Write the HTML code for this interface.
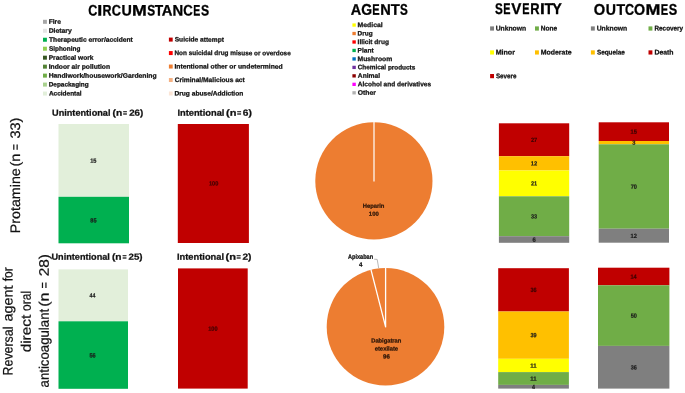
<!DOCTYPE html>
<html><head><meta charset="utf-8"><title>Figure</title>
<style>
html,body{margin:0;padding:0;background:#fff;}
svg{display:block;font-family:"Liberation Sans",sans-serif;text-rendering:geometricPrecision;will-change:transform;}
</style></head>
<body>
<svg width="685" height="393" viewBox="0 0 685 393">
<rect x="0" y="0" width="685" height="393" fill="#ffffff"/>
<text transform="translate(88.29,15.4) rotate(0.05)" font-size="15.2" font-weight="bold" fill="#000" stroke="#000" stroke-width="0.3" textLength="9.06" lengthAdjust="spacingAndGlyphs">C</text>
<text transform="translate(97.29,15.4) rotate(0.05)" font-size="15.2" font-weight="bold" fill="#000" stroke="#000" stroke-width="0.3" textLength="5.01" lengthAdjust="spacingAndGlyphs">I</text>
<text transform="translate(102.57,15.4) rotate(0.05)" font-size="15.2" font-weight="bold" fill="#000" stroke="#000" stroke-width="0.3" textLength="8.99" lengthAdjust="spacingAndGlyphs">R</text>
<text transform="translate(111.78,15.4) rotate(0.05)" font-size="15.2" font-weight="bold" fill="#000" stroke="#000" stroke-width="0.3" textLength="9.17" lengthAdjust="spacingAndGlyphs">C</text>
<text transform="translate(121.54,15.4) rotate(0.05)" font-size="15.2" font-weight="bold" fill="#000" stroke="#000" stroke-width="0.3" textLength="10.33" lengthAdjust="spacingAndGlyphs">U</text>
<text transform="translate(132.11,15.4) rotate(0.05)" font-size="15.2" font-weight="bold" fill="#000" stroke="#000" stroke-width="0.3" textLength="14.77" lengthAdjust="spacingAndGlyphs">M</text>
<text transform="translate(147.16,15.4) rotate(0.05)" font-size="15.2" font-weight="bold" fill="#000" stroke="#000" stroke-width="0.3" textLength="7.9" lengthAdjust="spacingAndGlyphs">S</text>
<text transform="translate(154.85,15.4) rotate(0.05)" font-size="15.2" font-weight="bold" fill="#000" stroke="#000" stroke-width="0.3" textLength="8.4" lengthAdjust="spacingAndGlyphs">T</text>
<text transform="translate(161.63,15.4) rotate(0.05)" font-size="15.2" font-weight="bold" fill="#000" stroke="#000" stroke-width="0.3" textLength="10.66" lengthAdjust="spacingAndGlyphs">A</text>
<text transform="translate(172.41,15.4) rotate(0.05)" font-size="15.2" font-weight="bold" fill="#000" stroke="#000" stroke-width="0.3" textLength="10.69" lengthAdjust="spacingAndGlyphs">N</text>
<text transform="translate(183.16,15.4) rotate(0.05)" font-size="15.2" font-weight="bold" fill="#000" stroke="#000" stroke-width="0.3" textLength="9.5" lengthAdjust="spacingAndGlyphs">C</text>
<text transform="translate(193.3,15.4) rotate(0.05)" font-size="15.2" font-weight="bold" fill="#000" stroke="#000" stroke-width="0.3" textLength="7.01" lengthAdjust="spacingAndGlyphs">E</text>
<text transform="translate(200.95,15.4) rotate(0.05)" font-size="15.2" font-weight="bold" fill="#000" stroke="#000" stroke-width="0.3" textLength="8.13" lengthAdjust="spacingAndGlyphs">S</text>
<text transform="translate(350.74,14.7) rotate(0.05)" font-size="15.4" font-weight="bold" fill="#000" stroke="#000" stroke-width="0.3" textLength="10.44" lengthAdjust="spacingAndGlyphs">A</text>
<text transform="translate(361.33,14.7) rotate(0.05)" font-size="15.4" font-weight="bold" fill="#000" stroke="#000" stroke-width="0.3" textLength="10.84" lengthAdjust="spacingAndGlyphs">G</text>
<text transform="translate(372.26,14.7) rotate(0.05)" font-size="15.4" font-weight="bold" fill="#000" stroke="#000" stroke-width="0.3" textLength="7.37" lengthAdjust="spacingAndGlyphs">E</text>
<text transform="translate(380.32,14.7) rotate(0.05)" font-size="15.4" font-weight="bold" fill="#000" stroke="#000" stroke-width="0.3" textLength="10.56" lengthAdjust="spacingAndGlyphs">N</text>
<text transform="translate(390.63,14.7) rotate(0.05)" font-size="15.4" font-weight="bold" fill="#000" stroke="#000" stroke-width="0.3" textLength="9.02" lengthAdjust="spacingAndGlyphs">T</text>
<text transform="translate(400.06,14.7) rotate(0.05)" font-size="15.4" font-weight="bold" fill="#000" stroke="#000" stroke-width="0.3" textLength="7.79" lengthAdjust="spacingAndGlyphs">S</text>
<text transform="translate(494.96,13.9) rotate(0.05)" font-size="15.5" font-weight="bold" fill="#000" stroke="#000" stroke-width="0.3" textLength="7.79" lengthAdjust="spacingAndGlyphs">S</text>
<text transform="translate(503.27,13.9) rotate(0.05)" font-size="15.5" font-weight="bold" fill="#000" stroke="#000" stroke-width="0.3" textLength="7.25" lengthAdjust="spacingAndGlyphs">E</text>
<text transform="translate(511.2,13.9) rotate(0.05)" font-size="15.5" font-weight="bold" fill="#000" stroke="#000" stroke-width="0.3" textLength="10.11" lengthAdjust="spacingAndGlyphs">V</text>
<text transform="translate(522.27,13.9) rotate(0.05)" font-size="15.5" font-weight="bold" fill="#000" stroke="#000" stroke-width="0.3" textLength="7.25" lengthAdjust="spacingAndGlyphs">E</text>
<text transform="translate(530.24,13.9) rotate(0.05)" font-size="15.5" font-weight="bold" fill="#000" stroke="#000" stroke-width="0.3" textLength="9.33" lengthAdjust="spacingAndGlyphs">R</text>
<text transform="translate(539.94,13.9) rotate(0.05)" font-size="15.5" font-weight="bold" fill="#000" stroke="#000" stroke-width="0.3" textLength="4.82" lengthAdjust="spacingAndGlyphs">I</text>
<text transform="translate(544.44,13.9) rotate(0.05)" font-size="15.5" font-weight="bold" fill="#000" stroke="#000" stroke-width="0.3" textLength="8.71" lengthAdjust="spacingAndGlyphs">T</text>
<text transform="translate(552.15,13.9) rotate(0.05)" font-size="15.5" font-weight="bold" fill="#000" stroke="#000" stroke-width="0.3" textLength="9.58" lengthAdjust="spacingAndGlyphs">Y</text>
<text transform="translate(593.8,14.7) rotate(0.05)" font-size="15.4" font-weight="bold" fill="#000" stroke="#000" stroke-width="0.3" textLength="11.42" lengthAdjust="spacingAndGlyphs">O</text>
<text transform="translate(605.75,14.7) rotate(0.05)" font-size="15.4" font-weight="bold" fill="#000" stroke="#000" stroke-width="0.3" textLength="10.21" lengthAdjust="spacingAndGlyphs">U</text>
<text transform="translate(616.44,14.7) rotate(0.05)" font-size="15.4" font-weight="bold" fill="#000" stroke="#000" stroke-width="0.3" textLength="8.61" lengthAdjust="spacingAndGlyphs">T</text>
<text transform="translate(624.99,14.7) rotate(0.05)" font-size="15.4" font-weight="bold" fill="#000" stroke="#000" stroke-width="0.3" textLength="9.06" lengthAdjust="spacingAndGlyphs">C</text>
<text transform="translate(634.02,14.7) rotate(0.05)" font-size="15.4" font-weight="bold" fill="#000" stroke="#000" stroke-width="0.3" textLength="11.08" lengthAdjust="spacingAndGlyphs">O</text>
<text transform="translate(645.5,14.7) rotate(0.05)" font-size="15.4" font-weight="bold" fill="#000" stroke="#000" stroke-width="0.3" textLength="14.89" lengthAdjust="spacingAndGlyphs">M</text>
<text transform="translate(660.86,14.7) rotate(0.05)" font-size="15.4" font-weight="bold" fill="#000" stroke="#000" stroke-width="0.3" textLength="7.37" lengthAdjust="spacingAndGlyphs">E</text>
<text transform="translate(668.83,14.7) rotate(0.05)" font-size="15.4" font-weight="bold" fill="#000" stroke="#000" stroke-width="0.3" textLength="8.46" lengthAdjust="spacingAndGlyphs">S</text>
<rect x="43.0" y="19.8" width="3.9" height="4.0" fill="#A6A6A6"/>
<text transform="translate(48.65,23.8) rotate(0.05)" font-size="6.5" font-weight="bold" fill="#111" stroke="#111" stroke-width="0.25" textLength="12.28" lengthAdjust="spacingAndGlyphs">Fire</text>
<rect x="43.0" y="28.77" width="3.9" height="4.0" fill="#E4E4E4"/>
<text transform="translate(48.64,32.77) rotate(0.05)" font-size="6.5" font-weight="bold" fill="#111" stroke="#111" stroke-width="0.25" textLength="23.19" lengthAdjust="spacingAndGlyphs">Dietary</text>
<rect x="43.0" y="37.74" width="3.9" height="4.0" fill="#00B050"/>
<text transform="translate(49.03,41.74) rotate(0.05)" font-size="6.5" font-weight="bold" fill="#111" stroke="#111" stroke-width="0.25" textLength="83.66" lengthAdjust="spacingAndGlyphs">Therapeutic error/accident</text>
<rect x="43.0" y="46.71" width="3.9" height="4.0" fill="#92D050"/>
<text transform="translate(48.91,50.71) rotate(0.05)" font-size="6.5" font-weight="bold" fill="#111" stroke="#111" stroke-width="0.25" textLength="31.42" lengthAdjust="spacingAndGlyphs">Siphoning</text>
<rect x="43.0" y="55.68" width="3.9" height="4.0" fill="#375623"/>
<text transform="translate(48.66,59.68) rotate(0.05)" font-size="6.5" font-weight="bold" fill="#111" stroke="#111" stroke-width="0.25" textLength="44.73" lengthAdjust="spacingAndGlyphs">Practical work</text>
<rect x="43.0" y="64.65" width="3.9" height="4.0" fill="#548235"/>
<text transform="translate(48.65,68.65) rotate(0.05)" font-size="6.5" font-weight="bold" fill="#111" stroke="#111" stroke-width="0.25" textLength="61.47" lengthAdjust="spacingAndGlyphs">Indoor air pollution</text>
<rect x="43.0" y="73.62" width="3.9" height="4.0" fill="#70AD47"/>
<text transform="translate(48.65,77.62) rotate(0.05)" font-size="6.5" font-weight="bold" fill="#111" stroke="#111" stroke-width="0.25" textLength="107.91" lengthAdjust="spacingAndGlyphs">Handiwork/housework/Gardening</text>
<rect x="43.0" y="82.59" width="3.9" height="4.0" fill="#A9D18E"/>
<text transform="translate(48.67,86.59) rotate(0.05)" font-size="6.5" font-weight="bold" fill="#111" stroke="#111" stroke-width="0.25" textLength="40.06" lengthAdjust="spacingAndGlyphs">Depackaging</text>
<rect x="43.0" y="91.56" width="3.9" height="4.0" fill="#E2EFDA"/>
<text transform="translate(48.94,95.56) rotate(0.05)" font-size="6.5" font-weight="bold" fill="#111" stroke="#111" stroke-width="0.25" textLength="32.72" lengthAdjust="spacingAndGlyphs">Accidental</text>
<rect x="168.9" y="37.6" width="3.8" height="4.0" fill="#C00000"/>
<text transform="translate(174.71,41.6) rotate(0.05)" font-size="6.5" font-weight="bold" fill="#111" stroke="#111" stroke-width="0.25" textLength="49.17" lengthAdjust="spacingAndGlyphs">Suicide attempt</text>
<rect x="168.9" y="51.07" width="3.8" height="4.0" fill="#FF0000"/>
<text transform="translate(174.47,55.07) rotate(0.05)" font-size="6.5" font-weight="bold" fill="#111" stroke="#111" stroke-width="0.25" textLength="116.25" lengthAdjust="spacingAndGlyphs">Non suicidal drug misuse or overdose</text>
<rect x="168.9" y="64.54" width="3.8" height="4.0" fill="#ED7D31"/>
<text transform="translate(174.45,68.54) rotate(0.05)" font-size="6.5" font-weight="bold" fill="#111" stroke="#111" stroke-width="0.25" textLength="108.3" lengthAdjust="spacingAndGlyphs">Intentional other or undetermined</text>
<rect x="168.9" y="78.01" width="3.8" height="4.0" fill="#F4B183"/>
<text transform="translate(174.63,82.01) rotate(0.05)" font-size="6.5" font-weight="bold" fill="#111" stroke="#111" stroke-width="0.25" textLength="70.15" lengthAdjust="spacingAndGlyphs">Criminal/Malicious act</text>
<rect x="168.9" y="91.48" width="3.8" height="4.0" fill="#FBE5D6"/>
<text transform="translate(174.46,95.48) rotate(0.05)" font-size="6.5" font-weight="bold" fill="#111" stroke="#111" stroke-width="0.25" textLength="68.85" lengthAdjust="spacingAndGlyphs">Drug abuse/Addiction</text>
<rect x="352.4" y="23.4" width="3.4" height="3.3" fill="#FFFF00"/>
<text transform="translate(357.54,27.0) rotate(0.05)" font-size="6.5" font-weight="bold" fill="#111" stroke="#111" stroke-width="0.25" textLength="25.14" lengthAdjust="spacingAndGlyphs">Medical</text>
<rect x="352.4" y="31.87" width="3.4" height="3.3" fill="#ED7D31"/>
<text transform="translate(357.57,35.47) rotate(0.05)" font-size="6.5" font-weight="bold" fill="#111" stroke="#111" stroke-width="0.25" textLength="15.06" lengthAdjust="spacingAndGlyphs">Drug</text>
<rect x="352.4" y="40.34" width="3.4" height="3.3" fill="#FF0000"/>
<text transform="translate(357.56,43.94) rotate(0.05)" font-size="6.5" font-weight="bold" fill="#111" stroke="#111" stroke-width="0.25" textLength="31.38" lengthAdjust="spacingAndGlyphs">Illicit drug</text>
<rect x="352.4" y="48.81" width="3.4" height="3.3" fill="#00B050"/>
<text transform="translate(357.56,52.41) rotate(0.05)" font-size="6.5" font-weight="bold" fill="#111" stroke="#111" stroke-width="0.25" textLength="16.02" lengthAdjust="spacingAndGlyphs">Plant</text>
<rect x="352.4" y="57.28" width="3.4" height="3.3" fill="#0070C0"/>
<text transform="translate(357.55,60.88) rotate(0.05)" font-size="6.5" font-weight="bold" fill="#111" stroke="#111" stroke-width="0.25" textLength="34.67" lengthAdjust="spacingAndGlyphs">Mushroom</text>
<rect x="352.4" y="65.75" width="3.4" height="3.3" fill="#7030A0"/>
<text transform="translate(357.74,69.35) rotate(0.05)" font-size="6.5" font-weight="bold" fill="#111" stroke="#111" stroke-width="0.25" textLength="57.52" lengthAdjust="spacingAndGlyphs">Chemical products</text>
<rect x="352.4" y="74.22" width="3.4" height="3.3" fill="#8B0000"/>
<text transform="translate(357.83,77.82) rotate(0.05)" font-size="6.5" font-weight="bold" fill="#111" stroke="#111" stroke-width="0.25" textLength="22.24" lengthAdjust="spacingAndGlyphs">Animal</text>
<rect x="352.4" y="82.69" width="3.4" height="3.3" fill="#FF00FF"/>
<text transform="translate(357.84,86.29) rotate(0.05)" font-size="6.5" font-weight="bold" fill="#111" stroke="#111" stroke-width="0.25" textLength="73.23" lengthAdjust="spacingAndGlyphs">Alcohol and derivatives</text>
<rect x="352.4" y="91.16" width="3.4" height="3.3" fill="#B2B2B2"/>
<text transform="translate(357.72,94.76) rotate(0.05)" font-size="6.5" font-weight="bold" fill="#111" stroke="#111" stroke-width="0.25" textLength="18.18" lengthAdjust="spacingAndGlyphs">Other</text>
<rect x="490.1" y="26.4" width="3.9" height="4.2" fill="#7F7F7F"/>
<text transform="translate(495.69,30.6) rotate(0.05)" font-size="6.8" font-weight="bold" fill="#111" stroke="#111" stroke-width="0.25" textLength="30.43" lengthAdjust="spacingAndGlyphs">Unknown</text>
<rect x="535.0" y="26.4" width="3.9" height="4.2" fill="#70AD47"/>
<text transform="translate(540.76,30.6) rotate(0.05)" font-size="6.8" font-weight="bold" fill="#111" stroke="#111" stroke-width="0.25" textLength="16.36" lengthAdjust="spacingAndGlyphs">None</text>
<rect x="490.1" y="50.35" width="3.9" height="4.2" fill="#FFFF00"/>
<text transform="translate(495.63,54.55) rotate(0.05)" font-size="6.8" font-weight="bold" fill="#111" stroke="#111" stroke-width="0.25" textLength="19.28" lengthAdjust="spacingAndGlyphs">Minor</text>
<rect x="535.0" y="50.35" width="3.9" height="4.2" fill="#FFC000"/>
<text transform="translate(540.74,54.55) rotate(0.05)" font-size="6.8" font-weight="bold" fill="#111" stroke="#111" stroke-width="0.25" textLength="30.8" lengthAdjust="spacingAndGlyphs">Moderate</text>
<rect x="490.1" y="74.0" width="3.9" height="4.2" fill="#C00000"/>
<text transform="translate(495.92,78.2) rotate(0.05)" font-size="6.8" font-weight="bold" fill="#111" stroke="#111" stroke-width="0.25" textLength="20.49" lengthAdjust="spacingAndGlyphs">Severe</text>
<rect x="590.9" y="26.4" width="3.9" height="4.2" fill="#7F7F7F"/>
<text transform="translate(596.69,30.6) rotate(0.05)" font-size="6.8" font-weight="bold" fill="#111" stroke="#111" stroke-width="0.25" textLength="30.53" lengthAdjust="spacingAndGlyphs">Unknown</text>
<rect x="648.5" y="26.4" width="3.9" height="4.2" fill="#70AD47"/>
<text transform="translate(654.47,30.6) rotate(0.05)" font-size="6.8" font-weight="bold" fill="#111" stroke="#111" stroke-width="0.25" textLength="28.66" lengthAdjust="spacingAndGlyphs">Recovery</text>
<rect x="590.9" y="50.35" width="3.9" height="4.2" fill="#FFC000"/>
<text transform="translate(596.92,54.55) rotate(0.05)" font-size="6.8" font-weight="bold" fill="#111" stroke="#111" stroke-width="0.25" textLength="28.0" lengthAdjust="spacingAndGlyphs">Sequelae</text>
<rect x="648.5" y="50.35" width="3.9" height="4.2" fill="#C00000"/>
<text transform="translate(654.44,54.55) rotate(0.05)" font-size="6.8" font-weight="bold" fill="#111" stroke="#111" stroke-width="0.25" textLength="19.09" lengthAdjust="spacingAndGlyphs">Death</text>
<text transform="translate(52.05,115.7) rotate(0.05)" font-size="8.9" font-weight="bold" fill="#111" stroke="#111" stroke-width="0.25" textLength="58.4" lengthAdjust="spacingAndGlyphs">Unintentional</text>
<text transform="translate(112.49,115.7) rotate(0.05)" font-size="8.9" font-weight="bold" fill="#111" stroke="#111" stroke-width="0.25" textLength="9.64" lengthAdjust="spacingAndGlyphs">(n</text>
<text transform="translate(123.11,115.7) rotate(0.05)" font-size="8.9" font-weight="bold" fill="#111" stroke="#111" stroke-width="0.25" textLength="4.08" lengthAdjust="spacingAndGlyphs">=</text>
<text transform="translate(129.16,115.7) rotate(0.05)" font-size="8.9" font-weight="bold" fill="#111" stroke="#111" stroke-width="0.25" textLength="14.02" lengthAdjust="spacingAndGlyphs">26)</text>
<text transform="translate(177.38,115.7) rotate(0.05)" font-size="8.9" font-weight="bold" fill="#111" stroke="#111" stroke-width="0.25" textLength="47.08" lengthAdjust="spacingAndGlyphs">Intentional</text>
<text transform="translate(225.95,115.7) rotate(0.05)" font-size="8.9" font-weight="bold" fill="#111" stroke="#111" stroke-width="0.25" textLength="10.44" lengthAdjust="spacingAndGlyphs">(n</text>
<text transform="translate(236.89,115.7) rotate(0.05)" font-size="8.9" font-weight="bold" fill="#111" stroke="#111" stroke-width="0.25" textLength="4.31" lengthAdjust="spacingAndGlyphs">=</text>
<text transform="translate(242.83,115.7) rotate(0.05)" font-size="8.9" font-weight="bold" fill="#111" stroke="#111" stroke-width="0.25" textLength="9.08" lengthAdjust="spacingAndGlyphs">6)</text>
<text transform="translate(51.45,259.7) rotate(0.05)" font-size="8.9" font-weight="bold" fill="#111" stroke="#111" stroke-width="0.25" textLength="58.4" lengthAdjust="spacingAndGlyphs">Unintentional</text>
<text transform="translate(111.89,259.7) rotate(0.05)" font-size="8.9" font-weight="bold" fill="#111" stroke="#111" stroke-width="0.25" textLength="9.64" lengthAdjust="spacingAndGlyphs">(n</text>
<text transform="translate(122.51,259.7) rotate(0.05)" font-size="8.9" font-weight="bold" fill="#111" stroke="#111" stroke-width="0.25" textLength="4.08" lengthAdjust="spacingAndGlyphs">=</text>
<text transform="translate(128.56,259.7) rotate(0.05)" font-size="8.9" font-weight="bold" fill="#111" stroke="#111" stroke-width="0.25" textLength="14.02" lengthAdjust="spacingAndGlyphs">25)</text>
<text transform="translate(176.98,259.7) rotate(0.05)" font-size="8.9" font-weight="bold" fill="#111" stroke="#111" stroke-width="0.25" textLength="47.08" lengthAdjust="spacingAndGlyphs">Intentional</text>
<text transform="translate(225.55,259.7) rotate(0.05)" font-size="8.9" font-weight="bold" fill="#111" stroke="#111" stroke-width="0.25" textLength="10.44" lengthAdjust="spacingAndGlyphs">(n</text>
<text transform="translate(236.49,259.7) rotate(0.05)" font-size="8.9" font-weight="bold" fill="#111" stroke="#111" stroke-width="0.25" textLength="4.31" lengthAdjust="spacingAndGlyphs">=</text>
<text transform="translate(242.45,259.7) rotate(0.05)" font-size="8.9" font-weight="bold" fill="#111" stroke="#111" stroke-width="0.25" textLength="9.06" lengthAdjust="spacingAndGlyphs">2)</text>
<g transform="translate(20.0,232.0) rotate(-90)">
<text transform="translate(-1.17,0) rotate(0.05)" font-size="13.8" font-weight="normal" fill="#111" stroke="#111" stroke-width="0.22" textLength="64.9" lengthAdjust="spacingAndGlyphs">Protamine</text>
<text transform="translate(65.4,0) rotate(0.05)" font-size="13.8" font-weight="normal" fill="#111" stroke="#111" stroke-width="0.22" textLength="12.95" lengthAdjust="spacingAndGlyphs">(n</text>
<text transform="translate(81.78,0) rotate(0.05)" font-size="13.8" font-weight="normal" fill="#111" stroke="#111" stroke-width="0.22" textLength="6.25" lengthAdjust="spacingAndGlyphs">=</text>
<text transform="translate(93.45,0) rotate(0.05)" font-size="13.8" font-weight="normal" fill="#111" stroke="#111" stroke-width="0.22" textLength="20.95" lengthAdjust="spacingAndGlyphs">33)</text>
</g>
<g transform="translate(12.6,374.4) rotate(-90)">
<text transform="translate(-1.02,0) rotate(0.05)" font-size="13.8" font-weight="normal" fill="#111" stroke="#111" stroke-width="0.22" textLength="48.84" lengthAdjust="spacingAndGlyphs">Reversal</text>
<text transform="translate(52.79,0) rotate(0.05)" font-size="13.8" font-weight="normal" fill="#111" stroke="#111" stroke-width="0.22" textLength="36.02" lengthAdjust="spacingAndGlyphs">agent</text>
<text transform="translate(93.13,0) rotate(0.05)" font-size="13.8" font-weight="normal" fill="#111" stroke="#111" stroke-width="0.22" textLength="14.07" lengthAdjust="spacingAndGlyphs">for</text>
</g>
<g transform="translate(30.8,351.7) rotate(-90)">
<text transform="translate(-0.64,0) rotate(0.05)" font-size="13.8" font-weight="normal" fill="#111" stroke="#111" stroke-width="0.22" textLength="37.56" lengthAdjust="spacingAndGlyphs">direct</text>
<text transform="translate(40.8,0) rotate(0.05)" font-size="13.8" font-weight="normal" fill="#111" stroke="#111" stroke-width="0.22" textLength="20.01" lengthAdjust="spacingAndGlyphs">oral</text>
</g>
<g transform="translate(48.7,386.9) rotate(-90)">
<text transform="translate(-0.56,0) rotate(0.05)" font-size="13.8" font-weight="normal" fill="#111" stroke="#111" stroke-width="0.22" textLength="78.66" lengthAdjust="spacingAndGlyphs">anticoagulant</text>
<text transform="translate(80.1,0) rotate(0.05)" font-size="13.8" font-weight="normal" fill="#111" stroke="#111" stroke-width="0.22" textLength="14.35" lengthAdjust="spacingAndGlyphs">(n</text>
<text transform="translate(98.47,0) rotate(0.05)" font-size="13.8" font-weight="normal" fill="#111" stroke="#111" stroke-width="0.22" textLength="6.37" lengthAdjust="spacingAndGlyphs">=</text>
<text transform="translate(110.53,0) rotate(0.05)" font-size="13.8" font-weight="normal" fill="#111" stroke="#111" stroke-width="0.22" textLength="22.23" lengthAdjust="spacingAndGlyphs">28)</text>
</g>
<rect x="58.5" y="124.0" width="70.5" height="72.8" fill="#E2EFDA"/>
<rect x="58.5" y="196.8" width="70.5" height="46.5" fill="#00B050"/>
<text transform="translate(90.14,162.7) rotate(0.05)" font-size="6.2" font-weight="bold" fill="#1a1a1a" stroke="#1a1a1a" stroke-width="0.2" textLength="6.32" lengthAdjust="spacingAndGlyphs">15</text>
<text transform="translate(90.33,222.5) rotate(0.05)" font-size="6.2" font-weight="bold" fill="#1a1a1a" stroke="#1a1a1a" stroke-width="0.2" textLength="6.13" lengthAdjust="spacingAndGlyphs">85</text>
<rect x="177.8" y="124.0" width="71.1" height="119.0" fill="#C00000"/>
<text transform="translate(208.97,185.6) rotate(0.05)" font-size="6.2" font-weight="bold" fill="#400000" stroke="#400000" stroke-width="0.2" textLength="9.33" lengthAdjust="spacingAndGlyphs">100</text>
<rect x="58.5" y="269.4" width="69.5" height="51.9" fill="#E2EFDA"/>
<rect x="58.5" y="321.3" width="69.5" height="67.5" fill="#00B050"/>
<text transform="translate(89.62,297.4) rotate(0.05)" font-size="6.2" font-weight="bold" fill="#1a1a1a" stroke="#1a1a1a" stroke-width="0.2" textLength="5.91" lengthAdjust="spacingAndGlyphs">44</text>
<text transform="translate(89.53,357.5) rotate(0.05)" font-size="6.2" font-weight="bold" fill="#1a1a1a" stroke="#1a1a1a" stroke-width="0.2" textLength="6.17" lengthAdjust="spacingAndGlyphs">56</text>
<rect x="178.0" y="268.4" width="69.7" height="120.2" fill="#C00000"/>
<text transform="translate(208.17,330.7) rotate(0.05)" font-size="6.2" font-weight="bold" fill="#400000" stroke="#400000" stroke-width="0.2" textLength="9.33" lengthAdjust="spacingAndGlyphs">100</text>
<circle cx="373.9" cy="180.9" r="58.6" fill="#ED7D31"/>
<line x1="374.0" y1="121.8" x2="374.0" y2="181.6" stroke="#fff" stroke-width="1.2"/>
<text transform="translate(362.71,207.75) rotate(0.05)" font-size="5.8" font-weight="bold" fill="#2e1608" stroke="#2e1608" stroke-width="0.25" textLength="21.65" lengthAdjust="spacingAndGlyphs">Heparin</text>
<text transform="translate(368.83,215.7) rotate(0.05)" font-size="5.8" font-weight="bold" fill="#2e1608" stroke="#2e1608" stroke-width="0.25" textLength="9.92" lengthAdjust="spacingAndGlyphs">100</text>
<circle cx="385.5" cy="326.7" r="58.8" fill="#ED7D31"/>
<path d="M385.6 267.4 L385.6 326.9 L370.9 269.4" fill="none" stroke="#fff" stroke-width="1.3" stroke-linejoin="round"/>
<path d="M374.2 259.2 L377.2 259.4 L378.7 268.2" fill="none" stroke="#9a9a9a" stroke-width="0.7"/>
<text transform="translate(347.96,258.7) rotate(0.05)" font-size="6.3" font-weight="bold" fill="#111" stroke="#111" stroke-width="0.25" textLength="25.19" lengthAdjust="spacingAndGlyphs">Apixaban</text>
<text transform="translate(358.91,266.6) rotate(0.05)" font-size="6.0" font-weight="bold" fill="#111" stroke="#111" stroke-width="0.25" textLength="3.43" lengthAdjust="spacingAndGlyphs">4</text>
<text transform="translate(371.21,342.5) rotate(0.05)" font-size="5.9" font-weight="bold" fill="#2e1608" stroke="#2e1608" stroke-width="0.25" textLength="30.14" lengthAdjust="spacingAndGlyphs">Dabigatran</text>
<text transform="translate(374.67,350.5) rotate(0.05)" font-size="5.9" font-weight="bold" fill="#2e1608" stroke="#2e1608" stroke-width="0.25" textLength="23.43" lengthAdjust="spacingAndGlyphs">etexilate</text>
<text transform="translate(383.09,358.5) rotate(0.05)" font-size="6.0" font-weight="bold" fill="#2e1608" stroke="#2e1608" stroke-width="0.25" textLength="6.84" lengthAdjust="spacingAndGlyphs">96</text>
<rect x="498.9" y="123.3" width="70.3" height="32.9" fill="#C00000"/>
<rect x="498.9" y="156.2" width="70.3" height="14.3" fill="#FFC000"/>
<rect x="498.9" y="170.5" width="70.3" height="25.8" fill="#FFFF00"/>
<rect x="498.9" y="196.3" width="70.3" height="39.9" fill="#70AD47"/>
<rect x="498.9" y="236.2" width="70.3" height="6.6" fill="#7F7F7F"/>
<text transform="translate(530.96,141.95) rotate(0.05)" font-size="6.2" font-weight="bold" fill="#3a0000" stroke="#3a0000" stroke-width="0.2" textLength="6.24" lengthAdjust="spacingAndGlyphs">27</text>
<text transform="translate(530.79,165.55) rotate(0.05)" font-size="6.2" font-weight="bold" fill="#1a1a1a" stroke="#1a1a1a" stroke-width="0.2" textLength="6.39" lengthAdjust="spacingAndGlyphs">12</text>
<text transform="translate(530.96,185.6) rotate(0.05)" font-size="6.2" font-weight="bold" fill="#1a1a1a" stroke="#1a1a1a" stroke-width="0.2" textLength="6.15" lengthAdjust="spacingAndGlyphs">21</text>
<text transform="translate(531.02,218.45) rotate(0.05)" font-size="6.2" font-weight="bold" fill="#1a1a1a" stroke="#1a1a1a" stroke-width="0.2" textLength="6.13" lengthAdjust="spacingAndGlyphs">33</text>
<text transform="translate(532.41,241.7) rotate(0.05)" font-size="6.2" font-weight="bold" fill="#1a1a1a" stroke="#1a1a1a" stroke-width="0.2" textLength="3.28" lengthAdjust="spacingAndGlyphs">6</text>
<rect x="598.7" y="122.3" width="70.3" height="18.7" fill="#C00000"/>
<rect x="598.7" y="141.0" width="70.3" height="3.3" fill="#FFC000"/>
<rect x="598.7" y="144.3" width="70.3" height="84.4" fill="#70AD47"/>
<rect x="598.7" y="228.7" width="70.3" height="14.0" fill="#7F7F7F"/>
<text transform="translate(630.59,133.85) rotate(0.05)" font-size="6.2" font-weight="bold" fill="#3a0000" stroke="#3a0000" stroke-width="0.2" textLength="6.32" lengthAdjust="spacingAndGlyphs">15</text>
<text transform="translate(632.29,144.85) rotate(0.05)" font-size="6.2" font-weight="bold" fill="#1a1a1a" stroke="#1a1a1a" stroke-width="0.2" textLength="3.19" lengthAdjust="spacingAndGlyphs">3</text>
<text transform="translate(630.71,188.7) rotate(0.05)" font-size="6.2" font-weight="bold" fill="#1a1a1a" stroke="#1a1a1a" stroke-width="0.2" textLength="6.27" lengthAdjust="spacingAndGlyphs">70</text>
<text transform="translate(630.59,237.9) rotate(0.05)" font-size="6.2" font-weight="bold" fill="#1a1a1a" stroke="#1a1a1a" stroke-width="0.2" textLength="6.39" lengthAdjust="spacingAndGlyphs">12</text>
<rect x="498.2" y="268.2" width="70.7" height="43.3" fill="#C00000"/>
<rect x="498.2" y="311.5" width="70.7" height="47.3" fill="#FFC000"/>
<rect x="498.2" y="358.8" width="70.7" height="13.3" fill="#FFFF00"/>
<rect x="498.2" y="372.1" width="70.7" height="12.8" fill="#70AD47"/>
<rect x="498.2" y="384.9" width="70.7" height="3.7" fill="#7F7F7F"/>
<text transform="translate(530.52,292.05) rotate(0.05)" font-size="6.2" font-weight="bold" fill="#3a0000" stroke="#3a0000" stroke-width="0.2" textLength="6.13" lengthAdjust="spacingAndGlyphs">36</text>
<text transform="translate(530.52,337.35) rotate(0.05)" font-size="6.2" font-weight="bold" fill="#1a1a1a" stroke="#1a1a1a" stroke-width="0.2" textLength="6.13" lengthAdjust="spacingAndGlyphs">39</text>
<text transform="translate(530.29,367.65) rotate(0.05)" font-size="6.2" font-weight="bold" fill="#1a1a1a" stroke="#1a1a1a" stroke-width="0.2" textLength="6.32" lengthAdjust="spacingAndGlyphs">11</text>
<text transform="translate(530.29,380.7) rotate(0.05)" font-size="6.2" font-weight="bold" fill="#1a1a1a" stroke="#1a1a1a" stroke-width="0.2" textLength="6.32" lengthAdjust="spacingAndGlyphs">11</text>
<text transform="translate(532.04,388.95) rotate(0.05)" font-size="6.2" font-weight="bold" fill="#1a1a1a" stroke="#1a1a1a" stroke-width="0.2" textLength="2.96" lengthAdjust="spacingAndGlyphs">4</text>
<rect x="598.0" y="267.7" width="71.4" height="17.6" fill="#C00000"/>
<rect x="598.0" y="285.3" width="71.4" height="60.6" fill="#70AD47"/>
<rect x="598.0" y="345.9" width="71.4" height="42.7" fill="#7F7F7F"/>
<text transform="translate(630.45,278.7) rotate(0.05)" font-size="6.2" font-weight="bold" fill="#3a0000" stroke="#3a0000" stroke-width="0.2" textLength="6.18" lengthAdjust="spacingAndGlyphs">14</text>
<text transform="translate(630.63,317.8) rotate(0.05)" font-size="6.2" font-weight="bold" fill="#1a1a1a" stroke="#1a1a1a" stroke-width="0.2" textLength="6.2" lengthAdjust="spacingAndGlyphs">50</text>
<text transform="translate(630.67,369.45) rotate(0.05)" font-size="6.2" font-weight="bold" fill="#1a1a1a" stroke="#1a1a1a" stroke-width="0.2" textLength="6.13" lengthAdjust="spacingAndGlyphs">36</text>
</svg>
</body></html>
